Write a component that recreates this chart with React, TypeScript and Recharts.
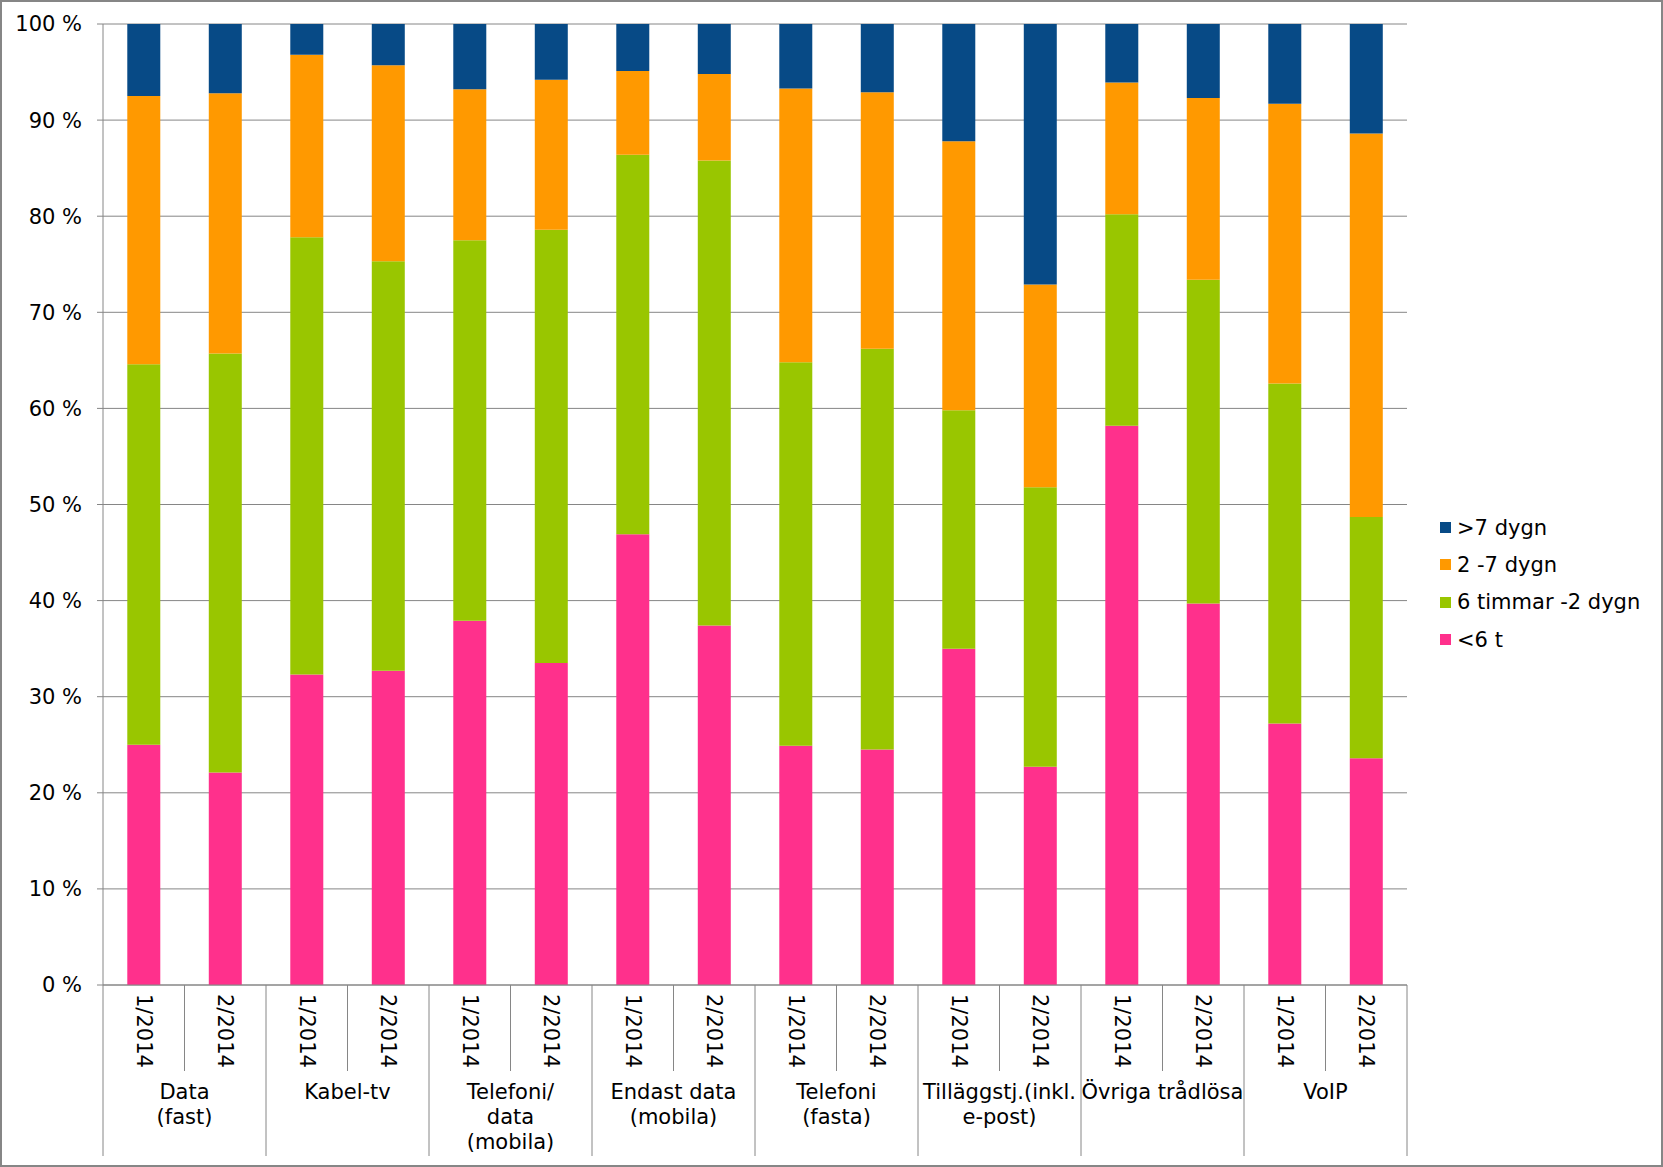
import React from 'react';
import { BarChart, Bar, XAxis, YAxis, CartesianGrid } from 'recharts';

const groups: string[][] = [
  ['Data', '(fast)'],
  ['Kabel-tv'],
  ['Telefoni/', 'data', '(mobila)'],
  ['Endast data', '(mobila)'],
  ['Telefoni', '(fasta)'],
  ['Tilläggstj.(inkl.', 'e-post)'],
  ['Övriga trådlösa'],
  ['VoIP'],
];
const periods = ['1/2014', '2/2014'];

// segment shares in %, bar order: group by group, period 1 then period 2
const under6t = [25.0, 22.1, 32.3, 32.7, 37.9, 33.5, 46.9, 37.4, 24.9, 24.5, 35.0, 22.7, 58.2, 39.7, 27.2, 23.6];
const h6to2d = [39.6, 43.6, 45.5, 42.6, 39.6, 45.1, 39.5, 48.4, 39.9, 41.7, 24.8, 29.1, 22.0, 33.7, 35.4, 25.1];
const d2to7 = [27.9, 27.1, 19.0, 20.4, 15.7, 15.6, 8.7, 9.0, 28.5, 26.7, 28.0, 21.1, 13.7, 18.9, 29.1, 39.9];
const over7d = [7.5, 7.2, 3.2, 4.3, 6.8, 5.8, 4.9, 5.2, 6.7, 7.1, 12.2, 27.1, 6.1, 7.7, 8.3, 11.4];

const yTicks = [0, 10, 20, 30, 40, 50, 60, 70, 80, 90, 100];

const series = [
  { key: 'under6t', name: '<6 t', color: '#FF308C', values: under6t },
  { key: 'h6to2d', name: '6 timmar -2 dygn', color: '#99C600', values: h6to2d },
  { key: 'd2to7', name: '2 -7 dygn', color: '#FF9900', values: d2to7 },
  { key: 'over7d', name: '>7 dygn', color: '#074A86', values: over7d },
];

const data = groups.flatMap((g, gi) =>
  periods.map((p, pi) => {
    const i = gi * periods.length + pi;
    const row: any = { key: `${gi}-${pi}`, period: p, gi, pi };
    series.forEach((s) => {
      row[s.key] = s.values[i];
    });
    return row;
  })
);

const FONT = 'Verdana, "DejaVu Sans", sans-serif';
const FS = 21;
const GRAY = '#868686';

const W = 1663;
const H = 1167;
const PLOT_LEFT = 103;
const PLOT_RIGHT = 1407;
const PLOT_TOP = 24;
const PLOT_BOTTOM = 985;

function XTick(props: any) {
  const { x, y, payload } = props;
  const idx = payload?.index ?? props.index ?? 0;
  const row = data[idx];
  const half =
    payload && typeof payload.offset === 'number' && payload.offset > 0
      ? payload.offset
      : (PLOT_RIGHT - PLOT_LEFT) / data.length / 2;
  const isLast = idx === data.length - 1;
  const labelTop = y + 9;
  return (
    <g>
      <text
        x={x}
        y={labelTop}
        transform={`rotate(90, ${x}, ${labelTop})`}
        textAnchor="start"
        dominantBaseline="central"
        fontFamily={FONT}
        fontSize={FS}
        fill="#000"
      >
        {row.period}
      </text>
      <line
        x1={x - half}
        x2={x - half}
        y1={y}
        y2={y + (row.pi === 0 ? 171 : 86)}
        stroke={GRAY}
        strokeWidth={1}
      />
      {isLast && (
        <line x1={x + half} x2={x + half} y1={y} y2={y + 171} stroke={GRAY} strokeWidth={1} />
      )}
      {row.pi === periods.length - 1 &&
        groups[row.gi].map((line, li) => (
          <text
            key={li}
            x={x - half}
            y={y + 107 + li * 25}
            textAnchor="middle"
            dominantBaseline="central"
            fontFamily={FONT}
            fontSize={FS}
            fill="#000"
          >
            {line}
          </text>
        ))}
    </g>
  );
}

export default function App() {
  const legendItems = [...series].reverse();
  return (
    <div style={{ position: 'absolute', left: 0, top: 0, width: W, height: H, background: '#fff' }}>
      <BarChart
        width={W}
        height={H}
        data={data}
        margin={{ top: PLOT_TOP, right: W - PLOT_RIGHT, bottom: 0, left: 0 }}
        barCategoryGap="29.8%"
      >
        <CartesianGrid vertical={false} stroke={GRAY} strokeWidth={1} />
        <XAxis
          dataKey="key"
          interval={0}
          height={H - PLOT_BOTTOM}
          tickLine={false}
          tickSize={0}
          tickMargin={0}
          axisLine={{ stroke: GRAY, strokeWidth: 1 }}
          tick={<XTick />}
        />
        <YAxis
          width={PLOT_LEFT}
          domain={[0, 100]}
          ticks={yTicks}
          interval={0}
          allowDataOverflow
          tickFormatter={(v: number) => `${v} %`}
          tickSize={6}
          tickMargin={15}
          tickLine={{ stroke: GRAY }}
          axisLine={{ stroke: GRAY, strokeWidth: 1 }}
          tick={{ fontFamily: FONT, fontSize: FS, fill: '#000' }}
        />
        {series.map((s) => (
          <Bar key={s.key} dataKey={s.key} name={s.name} stackId="a" fill={s.color} isAnimationActive={false} />
        ))}
      </BarChart>
      <div style={{ position: 'absolute', left: 1440, top: 509, fontFamily: FONT, fontSize: FS, color: '#000' }}>
        {legendItems.map((s) => (
          <div key={s.key} style={{ display: 'flex', alignItems: 'center', height: 37.3, whiteSpace: 'nowrap' }}>
            <span style={{ display: 'inline-block', width: 11, height: 11, background: s.color, marginRight: 6 }} />
            <span>{s.name}</span>
          </div>
        ))}
      </div>
      <div
        style={{
          position: 'absolute',
          left: 0,
          top: 0,
          width: W,
          height: H,
          boxSizing: 'border-box',
          border: `2px solid ${GRAY}`,
          pointerEvents: 'none',
        }}
      />
    </div>
  );
}
